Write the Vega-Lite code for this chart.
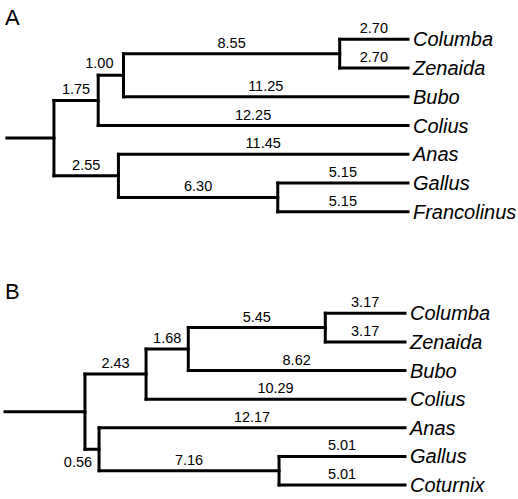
{
  "$schema": "https://vega.github.io/schema/vega-lite/v6.json",
  "padding": 0,
  "spacing": 0,
  "config": {
    "view": {"stroke": null},
    "text": {"font": "Liberation Sans", "color": "black"},
    "rule": {"color": "black", "strokeWidth": 3, "strokeCap": "square"},
    "title": {"anchor": "start", "frame": "group", "fontSize": 22, "fontWeight": "normal", "font": "Liberation Sans", "color": "black", "dx": 5, "baseline": "alphabetic"}
  },
  "datasets": {
    "brA": [
      {"name": "root", "parent": 15.86, "age": 14, "row": 3.4375, "len": null},
      {"name": "n1", "parent": 14, "age": 12.25, "row": 2.125, "len": 1.75},
      {"name": "n2", "parent": 14, "age": 11.45, "row": 4.75, "len": 2.55},
      {"name": "n3", "parent": 12.25, "age": 11.25, "row": 1.25, "len": 1.0},
      {"name": "Colius", "parent": 12.25, "age": 0, "row": 3, "len": 12.25},
      {"name": "n4", "parent": 11.25, "age": 2.7, "row": 0.5, "len": 8.55},
      {"name": "Bubo", "parent": 11.25, "age": 0, "row": 2, "len": 11.25},
      {"name": "Columba", "parent": 2.7, "age": 0, "row": 0, "len": 2.7},
      {"name": "Zenaida", "parent": 2.7, "age": 0, "row": 1, "len": 2.7},
      {"name": "Anas", "parent": 11.45, "age": 0, "row": 4, "len": 11.45},
      {"name": "n5", "parent": 11.45, "age": 5.15, "row": 5.5, "len": 6.3},
      {"name": "Gallus", "parent": 5.15, "age": 0, "row": 5, "len": 5.15},
      {"name": "Francolinus", "parent": 5.15, "age": 0, "row": 6, "len": 5.15}
    ],
    "ndA": [
      {"age": 14, "lo": 2.125, "hi": 4.75},
      {"age": 12.25, "lo": 1.25, "hi": 3},
      {"age": 11.25, "lo": 0.5, "hi": 2},
      {"age": 2.7, "lo": 0, "hi": 1},
      {"age": 11.45, "lo": 4, "hi": 5.5},
      {"age": 5.15, "lo": 5, "hi": 6}
    ],
    "brB": [
      {"name": "root", "parent": 15.91, "age": 12.73, "row": 3.4375, "len": null},
      {"name": "n1", "parent": 12.73, "age": 10.3, "row": 2.125, "len": 2.43},
      {"name": "n2", "parent": 12.73, "age": 12.17, "row": 4.75, "len": 0.56},
      {"name": "n3", "parent": 10.3, "age": 8.62, "row": 1.25, "len": 1.68},
      {"name": "Colius", "parent": 10.3, "age": 0, "row": 3, "len": 10.29},
      {"name": "n4", "parent": 8.62, "age": 3.17, "row": 0.5, "len": 5.45},
      {"name": "Bubo", "parent": 8.62, "age": 0, "row": 2, "len": 8.62},
      {"name": "Columba", "parent": 3.17, "age": 0, "row": 0, "len": 3.17},
      {"name": "Zenaida", "parent": 3.17, "age": 0, "row": 1, "len": 3.17},
      {"name": "Anas", "parent": 12.17, "age": 0, "row": 4, "len": 12.17},
      {"name": "n5", "parent": 12.17, "age": 5.01, "row": 5.5, "len": 7.16},
      {"name": "Gallus", "parent": 5.01, "age": 0, "row": 5, "len": 5.01},
      {"name": "Coturnix", "parent": 5.01, "age": 0, "row": 6, "len": 5.01}
    ],
    "ndB": [
      {"age": 12.73, "lo": 2.125, "hi": 4.75},
      {"age": 10.3, "lo": 1.25, "hi": 3},
      {"age": 8.62, "lo": 0.5, "hi": 2},
      {"age": 3.17, "lo": 0, "hi": 1},
      {"age": 12.17, "lo": 4, "hi": 5.5},
      {"age": 5.01, "lo": 5, "hi": 6}
    ]
  },
  "resolve": {"scale": {"x": "independent", "y": "independent"}},
  "vconcat": [
    {
      "width": 518,
      "height": 250,
      "title": {"text": "A", "offset": -30},
      "layer": [
        {
          "data": {"name": "brA"},
          "mark": {"type": "rule"},
          "encoding": {
            "x": {"field": "parent", "type": "quantitative", "scale": {"domain": [-4.35, 16.133], "reverse": true, "nice": false, "zero": false}, "axis": null},
            "x2": {"field": "age"},
            "y": {"field": "row", "type": "quantitative", "scale": {"domain": [-1.367, 7.329], "reverse": true, "nice": false, "zero": false}, "axis": null}
          }
        },
        {
          "data": {"name": "ndA"},
          "mark": {"type": "rule"},
          "encoding": {
            "x": {"field": "age", "type": "quantitative", "scale": {"domain": [-4.35, 16.133], "reverse": true, "nice": false, "zero": false}, "axis": null},
            "y": {"field": "lo", "type": "quantitative", "scale": {"domain": [-1.367, 7.329], "reverse": true, "nice": false, "zero": false}, "axis": null},
            "y2": {"field": "hi"}
          }
        },
        {
          "data": {"name": "brA"},
          "transform": [
            {"filter": "datum.len != null && datum.len != 1"},
            {"calculate": "(datum.parent + datum.age) / 2", "as": "mid"}
          ],
          "mark": {"type": "text", "fontSize": 14.5, "dy": -6, "baseline": "alphabetic", "align": "center"},
          "encoding": {
            "x": {"field": "mid", "type": "quantitative", "scale": {"domain": [-4.35, 16.133], "reverse": true, "nice": false, "zero": false}, "axis": null},
            "y": {"field": "row", "type": "quantitative", "scale": {"domain": [-1.367, 7.329], "reverse": true, "nice": false, "zero": false}, "axis": null},
            "text": {"field": "len", "type": "quantitative", "format": ".2f"}
          }
        },
        {
          "data": {"name": "brA"},
          "transform": [{"filter": "datum.len == 1"}],
          "mark": {"type": "text", "fontSize": 14.5, "dy": -7, "dx": -10, "baseline": "alphabetic", "align": "right"},
          "encoding": {
            "x": {"field": "age", "type": "quantitative", "scale": {"domain": [-4.35, 16.133], "reverse": true, "nice": false, "zero": false}, "axis": null},
            "y": {"field": "row", "type": "quantitative", "scale": {"domain": [-1.367, 7.329], "reverse": true, "nice": false, "zero": false}, "axis": null},
            "text": {"field": "len", "type": "quantitative", "format": ".2f"}
          }
        },
        {
          "data": {"name": "brA"},
          "transform": [{"filter": "datum.age == 0"}],
          "mark": {"type": "text", "fontSize": 20, "fontStyle": "italic", "dx": 5, "dy": 7, "baseline": "alphabetic", "align": "left"},
          "encoding": {
            "x": {"field": "age", "type": "quantitative", "scale": {"domain": [-4.35, 16.133], "reverse": true, "nice": false, "zero": false}, "axis": null},
            "y": {"field": "row", "type": "quantitative", "scale": {"domain": [-1.367, 7.329], "reverse": true, "nice": false, "zero": false}, "axis": null},
            "text": {"field": "name", "type": "nominal"}
          }
        }
      ]
    },
    {
      "width": 518,
      "height": 249,
      "title": {"text": "B", "offset": -54},
      "layer": [
        {
          "data": {"name": "brB"},
          "mark": {"type": "rule"},
          "encoding": {
            "x": {"field": "parent", "type": "quantitative", "scale": {"domain": [-4.495, 16.11], "reverse": true, "nice": false, "zero": false}, "axis": null},
            "x2": {"field": "age"},
            "y": {"field": "row", "type": "quantitative", "scale": {"domain": [-2.209, 6.487], "reverse": true, "nice": false, "zero": false}, "axis": null}
          }
        },
        {
          "data": {"name": "ndB"},
          "mark": {"type": "rule"},
          "encoding": {
            "x": {"field": "age", "type": "quantitative", "scale": {"domain": [-4.495, 16.11], "reverse": true, "nice": false, "zero": false}, "axis": null},
            "y": {"field": "lo", "type": "quantitative", "scale": {"domain": [-2.209, 6.487], "reverse": true, "nice": false, "zero": false}, "axis": null},
            "y2": {"field": "hi"}
          }
        },
        {
          "data": {"name": "brB"},
          "transform": [
            {"filter": "datum.len != null && datum.len != 0.56"},
            {"calculate": "(datum.parent + datum.age) / 2", "as": "mid"}
          ],
          "mark": {"type": "text", "fontSize": 14.5, "dy": -6, "baseline": "alphabetic", "align": "center"},
          "encoding": {
            "x": {"field": "mid", "type": "quantitative", "scale": {"domain": [-4.495, 16.11], "reverse": true, "nice": false, "zero": false}, "axis": null},
            "y": {"field": "row", "type": "quantitative", "scale": {"domain": [-2.209, 6.487], "reverse": true, "nice": false, "zero": false}, "axis": null},
            "text": {"field": "len", "type": "quantitative", "format": ".2f"}
          }
        },
        {
          "data": {"name": "brB"},
          "transform": [{"filter": "datum.len == 0.56"}],
          "mark": {"type": "text", "fontSize": 14.5, "dy": 18, "dx": -7, "baseline": "alphabetic", "align": "right"},
          "encoding": {
            "x": {"field": "age", "type": "quantitative", "scale": {"domain": [-4.495, 16.11], "reverse": true, "nice": false, "zero": false}, "axis": null},
            "y": {"field": "row", "type": "quantitative", "scale": {"domain": [-2.209, 6.487], "reverse": true, "nice": false, "zero": false}, "axis": null},
            "text": {"field": "len", "type": "quantitative", "format": ".2f"}
          }
        },
        {
          "data": {"name": "brB"},
          "transform": [{"filter": "datum.age == 0"}],
          "mark": {"type": "text", "fontSize": 20, "fontStyle": "italic", "dx": 5, "dy": 7, "baseline": "alphabetic", "align": "left"},
          "encoding": {
            "x": {"field": "age", "type": "quantitative", "scale": {"domain": [-4.495, 16.11], "reverse": true, "nice": false, "zero": false}, "axis": null},
            "y": {"field": "row", "type": "quantitative", "scale": {"domain": [-2.209, 6.487], "reverse": true, "nice": false, "zero": false}, "axis": null},
            "text": {"field": "name", "type": "nominal"}
          }
        }
      ]
    }
  ]
}
